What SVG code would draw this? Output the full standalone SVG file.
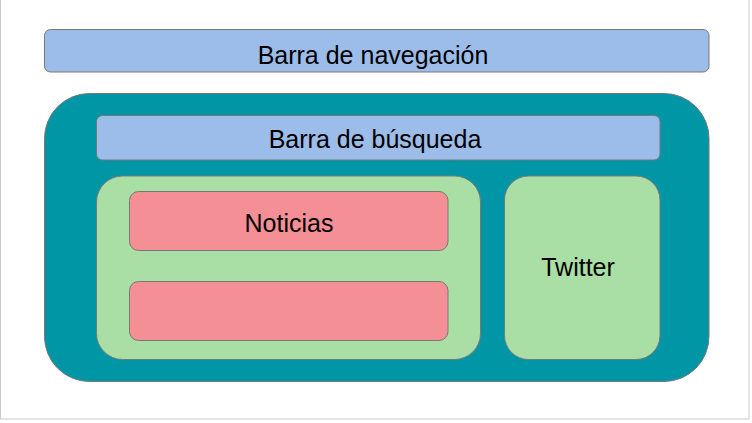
<svg xmlns="http://www.w3.org/2000/svg" width="752" height="423" viewBox="0 0 752 423">
<style>
  .box { stroke: #787878; stroke-width: 1; }
  .blue { fill: #9cbde9; }
  .teal { fill: #0096a6; }
  .green { fill: #a9dfa4; }
  .red { fill: #f48f96; }
  .lbl { font-family: "Liberation Sans", Arial, sans-serif; font-size: 25px; fill: #000; text-anchor: middle; }
</style>
<rect x="0.5" y="-1" width="748.5" height="420" fill="#ffffff" stroke="#cccccc" stroke-width="1"/>
<g id="nav">
  <rect class="box blue" x="44.5" y="29.5" width="664.5" height="42.5" rx="6"/>
  <text class="lbl" x="373" y="63.5">Barra de navegación</text>
</g>
<g id="main">
  <rect class="box teal" x="44.5" y="93.5" width="664.5" height="288" rx="45"/>
</g>
<g id="search">
  <rect class="box blue" x="96.5" y="115.5" width="563.5" height="44.5" rx="6"/>
  <text class="lbl" x="375" y="148">Barra de búsqueda</text>
</g>
<g id="noticias-panel">
  <rect class="box green" x="96.5" y="176" width="384" height="183.5" rx="26"/>
</g>
<g id="noticia1">
  <rect class="box red" x="129.5" y="191.5" width="318.5" height="59" rx="9"/>
  <text class="lbl" x="289" y="232">Noticias</text>
</g>
<g id="noticia2">
  <rect class="box red" x="129.5" y="281.5" width="318.5" height="59" rx="9"/>
</g>
<g id="twitter">
  <rect class="box green" x="504.5" y="176" width="155.5" height="183.5" rx="24"/>
  <text class="lbl" x="578" y="276">Twitter</text>
</g>
<g id="connectors"></g>
</svg>
